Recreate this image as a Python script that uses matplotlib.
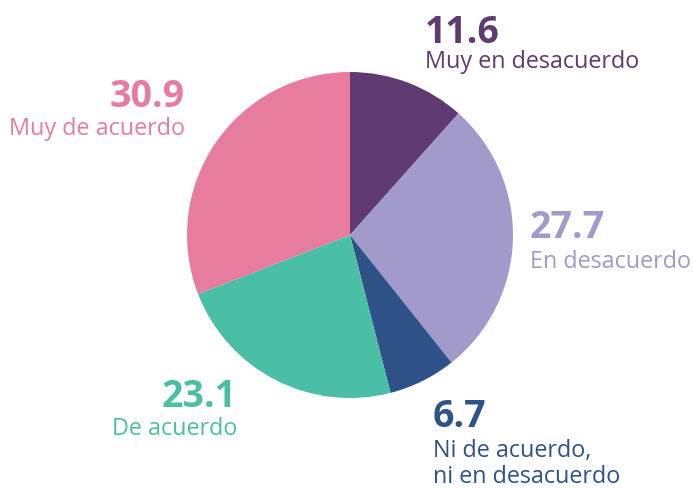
import matplotlib
matplotlib.use("Agg")
import matplotlib.pyplot as plt

labels = ["Muy en desacuerdo", "En desacuerdo", "Ni de acuerdo,\nni en desacuerdo", "De acuerdo", "Muy de acuerdo"]
values = [11.6, 27.7, 6.7, 23.1, 30.9]
value_text = ["11.6", "27.7", "6.7", "23.1", "30.9"]
colors = ["#5f3b71", "#a29acb", "#2f5389", "#4bbfa5", "#e87c9e"]

W, H = 693, 489
fig = plt.figure(figsize=(W / 100, H / 100), dpi=100)
fig.patch.set_facecolor("white")

cx, cy, r = 350, 236, 163
ax = fig.add_axes([(cx - r) / W, (H - cy - r) / H, 2 * r / W, 2 * r / H])
ax.pie(values, colors=colors, startangle=90, counterclock=False, radius=1,
       wedgeprops=dict(linewidth=0))
ax.set_xlim(-1, 1)
ax.set_ylim(-1, 1)
ax.set_aspect("equal")
ax.axis("off")

# label placements (pixel coords: x, number baseline, label baseline, alignment)
place = [
    (425, 43, 68, "left"),
    (530, 238, 268, "left"),
    (433, 427, 457, "left"),
    (237, 407, 435, "right"),
    (185, 107, 135, "right"),
]

num_font = dict(family=["Open Sans", "DejaVu Sans"], weight="bold", size=27)
lab_font = dict(family=["Open Sans", "DejaVu Sans"], size=16.8)

for (x, yn, yl, ha), vt, lab, col in zip(place, value_text, labels, colors):
    fig.text(x / W, 1 - yn / H, vt, ha=ha, va="baseline", color=col, **num_font)
    lines = lab.split("\n")
    for i, ln in enumerate(lines):
        fig.text(x / W, 1 - (yl + i * 26) / H, ln, ha=ha, va="baseline", color=col, **lab_font)

fig.savefig("out.png", dpi=100)
